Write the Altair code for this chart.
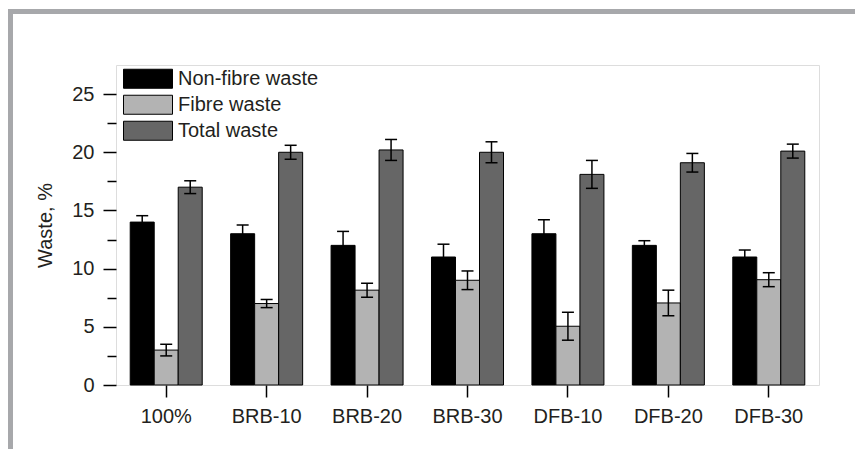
import altair as alt
import pandas as pd

categories = ["100%", "BRB-10", "BRB-20", "BRB-30", "DFB-10", "DFB-20", "DFB-30"]
series = ["Non-fibre waste", "Fibre waste", "Total waste"]
non_fibre = [14.0, 13.0, 12.0, 11.0, 13.0, 12.0, 11.0]
non_fibre_err = [0.55, 0.75, 1.2, 1.1, 1.2, 0.4, 0.6]
fibre = [3.0, 7.0, 8.15, 9.0, 5.05, 7.05, 9.05]
fibre_err = [0.5, 0.35, 0.6, 0.8, 1.2, 1.1, 0.6]
total = [17.0, 20.0, 20.2, 20.0, 18.1, 19.1, 20.1]
total_err = [0.55, 0.6, 0.9, 0.9, 1.2, 0.8, 0.6]
y_ticks = [0, 2.5, 5, 7.5, 10, 12.5, 15, 17.5, 20, 22.5, 25]
fills = ["#000000", "#b3b3b3", "#666666"]

rows = []
for s, vals, errs in zip(series, [non_fibre, fibre, total], [non_fibre_err, fibre_err, total_err]):
    for c, v, e in zip(categories, vals, errs):
        rows.append({"cat": c, "series": s, "value": v, "low": v - e, "high": v + e})
df = pd.DataFrame(rows)

FONT = "Liberation Sans"
TXT = "#231f20"
FS = 20

yaxis = alt.Axis(
    title="Waste, %", values=y_ticks, domain=False, grid=False,
    labelExpr="datum.value % 5 == 0 ? datum.label : ''",
    tickSize={"condition": {"test": "datum.value % 5 != 0", "value": 9}, "value": 13},
    tickColor="black", tickWidth=1.5, labelPadding=9,
    labelFont=FONT, labelFontSize=FS, labelColor=TXT,
    titleFont=FONT, titleFontSize=FS, titleColor=TXT, titleFontWeight="normal",
    titlePadding=16,
)
yscale = alt.Scale(domain=[0, 27.5], nice=False, zero=True)

X = alt.X("cat:N", sort=categories, title=None,
          scale=alt.Scale(paddingInner=0.283, paddingOuter=0.1415),
          axis=alt.Axis(labelAngle=0, domain=False, tickSize=12, tickColor="black",
                        tickWidth=1.5, labelPadding=9, labelFont=FONT, labelFontSize=FS,
                        labelColor=TXT))
XO = alt.XOffset("series:N", sort=series, scale=alt.Scale(paddingInner=0, paddingOuter=0))

base = alt.Chart(df).encode(x=X, xOffset=XO)

bars = base.mark_bar(stroke="black", strokeWidth=1).encode(
    y=alt.Y("value:Q", scale=yscale, axis=yaxis),
    fill=alt.Fill("series:N", sort=series,
                  scale=alt.Scale(domain=series, range=fills),
                  legend=alt.Legend(
                      title=None, orient="none", legendX=7, legendY=1,
                      symbolType="M-1,-0.388H1V0.388H-1Z", symbolSize=2401,
                      symbolStrokeColor="black", symbolStrokeWidth=1, symbolOpacity=1,
                      labelFont=FONT, labelFontSize=FS, labelColor=TXT, labelOffset=5,
                      clipHeight=25.5, rowPadding=0, padding=0)),
)
rules = base.mark_rule(color="black", strokeWidth=1.5).encode(
    y=alt.Y("low:Q", scale=yscale, axis=yaxis), y2="high:Q")
tlow = base.mark_tick(color="black", thickness=1.5, size=12, opacity=1).encode(
    y=alt.Y("low:Q", scale=yscale, axis=yaxis))
thigh = base.mark_tick(color="black", thickness=1.5, size=12, opacity=1).encode(
    y=alt.Y("high:Q", scale=yscale, axis=yaxis))

one = pd.DataFrame({"k": [0]})
border_top = alt.Chart(one).mark_rule(color="#a7a8ab", strokeWidth=5).encode(
    x=alt.value(-108), x2=alt.value(739), y=alt.value(-53.5))
border_left = alt.Chart(one).mark_rule(color="#a7a8ab", strokeWidth=5).encode(
    x=alt.value(-105.5), y=alt.value(-56), y2=alt.value(384))

chart = alt.layer(bars, rules, tlow, thigh, border_top, border_left).properties(
    width=703, height=320,
    autosize=alt.AutoSizeParams(type="none"),
    padding={"left": 108, "top": 57, "right": 36, "bottom": 64},
).configure_view(stroke="black", strokeWidth=2).configure(background="white")

chart.save("out.html", embed_options={"renderer": "svg", "actions": False})
